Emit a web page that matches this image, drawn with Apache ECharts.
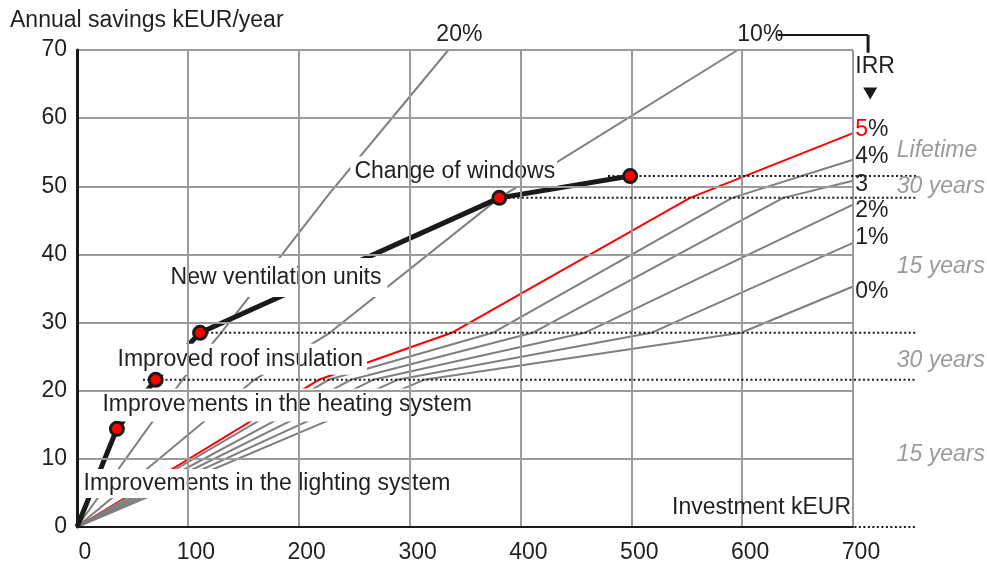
<!DOCTYPE html>
<html><head><meta charset="utf-8">
<script src="https://cdn.jsdelivr.net/npm/echarts@6/dist/echarts.min.js"></script>
<style>html,body{margin:0;padding:0;background:#fff}#c{width:987px;height:566px}</style>
</head><body><div id="c"></div>
<script>
// ---------------- data ----------------
const xTicks = [0, 100, 200, 300, 400, 500, 600, 700];
const yTicks = [0, 10, 20, 30, 40, 50, 60, 70];
const measureNames = ['Improvements in the lighting system', 'Improvements in the heating system',
  'Improved roof insulation', 'New ventilation units', 'Change of windows'];
const measureInvest  = [0, 36, 71, 111, 381, 499];
const measureSavings = [0, 14.4, 21.6, 28.5, 48.3, 51.5];
const irrNames  = ['20%', '10%', '5%', '4%', '3', '2%', '1%', '0%'];
const irrInvest = [
  [0, 95, 130, 228, 335],
  [0, 160, 228, 381, 596],
  [0, 218, 338, 553, 700],
  [0, 227, 375, 591, 700],
  [0, 247, 411, 637, 700],
  [0, 267, 458, 700],
  [0, 289, 518, 700],
  [0, 313, 599, 700]
];
const irrSavings = [
  [0, 21.6, 28.5, 49, 70],
  [0, 21.6, 28.5, 48.3, 70],
  [0, 21.6, 28.5, 48.3, 57.8],
  [0, 21.6, 28.5, 48.3, 53.9],
  [0, 21.6, 28.5, 48.3, 50.8],
  [0, 21.6, 28.5, 47.3],
  [0, 21.6, 28.5, 41.7],
  [0, 21.6, 28.5, 35.3]
];
const levelSavings = [51.5, 48.3, 28.5, 21.6, 0];
const lifetimeTexts = ['Lifetime', '30 years', '15 years', '30 years', '15 years'];
const xTitle = 'Investment kEUR';
const yTitle = 'Annual savings kEUR/year';
const irrTitle = 'IRR';

// ---------------- layout (annotation anchors, in axis units) ----------------
const FONT = '"Liberation Sans", Arial, Helvetica, sans-serif';
const TXT = '#231f20';
const layout = {
  measureLabelAt: [[1.8, 6.4], [18.9, 17.9], [32.5, 24.6], [80.3, 36.6], [246.2, 52.1]],
  measurePad: [[4, 4, 2, 4], [4, 4, 6, 4], [4, 4, 4, 4], [8, 6, 8, 4], [6, 2, 2, 4]],
  irrLabelAt: [[323.7, 72.2], [595.2, 72.2], [701.6, 58.3], [701.6, 54.3], [701.6, 50.3], [701.6, 46.4], [701.6, 42.4], [701.6, 34.6]],
  lifetimeAt: [[739, 55.3], [739, 50.0], [739, 38.2], [739, 24.4], [739, 10.6]],
  levelFrom: [479, 385, 117, 59.5, 616],
  levelTo: 757,
  irrTitleAt: [701.6, 67.5],
  arrowAt: [715.5, 63.6],
  bracket: [[632, 72.2, 713.6, 72.2, 2], [713.6, 72.2, 713.6, 69.6, 3]]
};

function segmentItem(dash) {
  return function (params, api) {
    const p1 = api.coord([api.value(0), api.value(1)]);
    const p2 = api.coord([api.value(2), api.value(3)]);
    return {
      type: 'line',
      shape: { x1: p1[0], y1: p1[1], x2: p2[0], y2: p2[1] },
      style: { stroke: '#1a1a1a', lineWidth: api.value(4), lineDash: dash, fill: null }
    };
  };
}

const series = [];
// IRR lines
irrNames.forEach((n, i) => {
  series.push({
    type: 'line', name: n,
    data: irrInvest[i].map((x, j) => [x, irrSavings[i][j]]),
    symbol: 'none', silent: true, z: 1,
    lineStyle: { color: n === '5%' ? '#ff0000' : '#7f7f7f', width: 2 }
  });
});
// measures line
series.push({
  type: 'line', data: measureInvest.map((x, j) => [x, measureSavings[j]]),
  symbol: 'none', z: 2, silent: true,
  lineStyle: { color: '#1a1a1a', width: 5 }
});
// measure labels (white boxes)
series.push({
  type: 'scatter', z: 3, clip: false, silent: true,
  symbolSize: 1, itemStyle: { color: 'rgba(0,0,0,0)', opacity: 1 },
  data: measureNames.map((n, i) => ({
    name: n, value: layout.measureLabelAt[i],
    label: { padding: layout.measurePad[i] }
  })),
  label: {
    show: true, position: 'right', distance: 0, formatter: '{b}', opacity: 1,
    color: TXT, fontSize: 23, fontFamily: FONT, backgroundColor: '#ffffff'
  }
});
// dotted level lines
series.push({
  type: 'custom', z: 6, silent: true, clip: false,
  data: levelSavings.map((y, i) => [layout.levelFrom[i], y, layout.levelTo, y, 2]),
  renderItem: segmentItem([2, 2.5])
});
// measure dots
series.push({
  type: 'scatter', z: 7, silent: true,
  data: measureInvest.slice(1).map((x, j) => [x, measureSavings[j + 1]]),
  symbol: 'circle', symbolSize: 13,
  itemStyle: { color: '#ff0000', borderColor: '#1a1a1a', borderWidth: 3, opacity: 1 }
});
// IRR labels
series.push({
  type: 'scatter', z: 8, clip: false, silent: true,
  symbolSize: 1, itemStyle: { color: 'rgba(0,0,0,0)', opacity: 1 },
  data: irrNames.map((n, i) => {
    const d = { name: n, value: layout.irrLabelAt[i] };
    if (n === '5%') {
      d.label = { formatter: '{r|5}{k|%}' };
    }
    return d;
  }),
  label: {
    show: true, position: 'right', distance: 0, formatter: '{b}',
    color: TXT, fontSize: 23, fontFamily: FONT,
    rich: {
      r: { color: '#ff0000', fontSize: 23, fontFamily: FONT },
      k: { color: TXT, fontSize: 23, fontFamily: FONT }
    }
  }
});
// IRR title
series.push({
  type: 'scatter', z: 8, clip: false, silent: true,
  symbolSize: 1, itemStyle: { color: 'rgba(0,0,0,0)', opacity: 1 },
  data: [{ name: irrTitle, value: layout.irrTitleAt }],
  label: { show: true, position: 'right', distance: 0, formatter: '{b}', color: TXT, fontSize: 23, fontFamily: FONT }
});
// arrow
series.push({
  type: 'scatter', z: 8, clip: false, silent: true,
  data: [layout.arrowAt], symbol: 'triangle', symbolRotate: 180, symbolSize: [14, 12],
  itemStyle: { color: '#1a1a1a', opacity: 1 }
});
// bracket
series.push({
  type: 'custom', z: 8, clip: false, silent: true,
  data: layout.bracket, renderItem: segmentItem(null)
});
// lifetime labels
series.push({
  type: 'scatter', z: 8, clip: false, silent: true,
  symbolSize: 1, itemStyle: { color: 'rgba(0,0,0,0)', opacity: 1 },
  data: lifetimeTexts.map((t, i) => ({ name: t, value: layout.lifetimeAt[i] })),
  label: {
    show: true, position: 'right', distance: 0, formatter: '{b}',
    color: '#9b9b9b', fontSize: 23, fontStyle: 'italic', fontFamily: FONT
  }
});

const chart = echarts.init(document.getElementById('c'), null, { renderer: 'canvas' });
chart.setOption({
  animation: false,
  backgroundColor: '#ffffff',
  grid: { left: 77, right: 134, top: 50, bottom: 39, containLabel: false, outerBoundsMode: 'none' },
  graphic: [{
    type: 'text', left: 10, top: 9, z: 10,
    style: { text: yTitle, font: '23px ' + FONT, fill: TXT }
  }],
  xAxis: {
    type: 'value', min: xTicks[0], max: xTicks[xTicks.length - 1], interval: xTicks[1] - xTicks[0], z: 5,
    axisLine: { show: true, onZero: false, lineStyle: { color: '#1a1a1a', width: 2 } },
    axisTick: { show: false },
    splitLine: { show: true, lineStyle: { color: '#9b9b9b', width: 2 } },
    axisLabel: { fontSize: 23, color: TXT, fontFamily: FONT, margin: 14, padding: [0, 0, 0, 16] },
    name: xTitle, nameLocation: 'end', nameGap: -2,
    nameTextStyle: { fontSize: 23, color: TXT, fontFamily: FONT, align: 'right', verticalAlign: 'bottom', padding: [0, 0, 8, 0] }
  },
  yAxis: {
    type: 'value', min: yTicks[0], max: yTicks[yTicks.length - 1], interval: yTicks[1] - yTicks[0], z: 5,
    axisLine: { show: true, lineStyle: { color: '#1a1a1a', width: 3 } },
    axisTick: { show: false },
    splitLine: { show: true, lineStyle: { color: '#9b9b9b', width: 2 } },
    axisLabel: { fontSize: 23, color: TXT, fontFamily: FONT, margin: 10, padding: [8, 0, 0, 0] }
  },
  series: series
});
</script>
</body></html>
